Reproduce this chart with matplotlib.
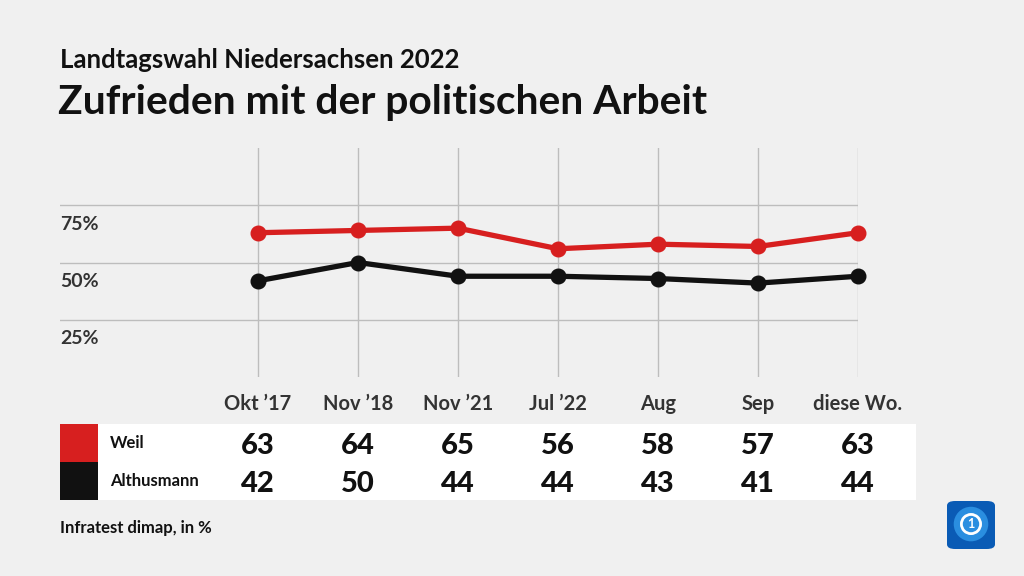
import matplotlib.pyplot as plt
import matplotlib.transforms as mtransforms
from matplotlib.patches import Rectangle, FancyBboxPatch, Circle

plt.rcParams['font.family'] = ['Lato', 'DejaVu Sans']

months = ['Okt ’17', 'Nov ’18', 'Nov ’21', 'Jul ’22', 'Aug', 'Sep', 'diese Wo.']
weil = [63, 64, 65, 56, 58, 57, 63]
althusmann = [42, 50, 44, 44, 43, 41, 44]
names = ['Weil', 'Althusmann']
colors = ['#d71f1f', '#111111']
yticks = [25, 50, 75]

W, H = 1024, 576
bg = '#f0f0f0'
fig = plt.figure(figsize=(W / 100, H / 100), dpi=100, facecolor=bg)

def fx(px):
    return px / W

def fy(py):
    return 1 - py / H

# plot area in pixel coords: left 60, right 858, top 148, bottom 377
ax = fig.add_axes([fx(60), fy(377), fx(858 - 60), (377 - 148) / H])
ax.set_zorder(3)
ax.set_facecolor(bg)
x = list(range(len(months)))
ax.set_xlim(-1.98, len(months) - 1)
ax.set_ylim(0, 100)
for s in ax.spines.values():
    s.set_visible(False)
ax.set_xticks([])
ax.set_yticks([])

for t in yticks:
    ax.axhline(t, color='#bdbdbd', lw=1, zorder=1)
    ax.text(-1.98, t - 4.5, f'{t}%', ha='left', va='top', fontsize=14,
            fontweight='bold', color='#333333')
for xi in x:
    ax.axvline(xi, color='#bdbdbd', lw=1, zorder=1)

for vals, c in zip([weil, althusmann], colors):
    ax.plot(x, vals, color=c, lw=3.8, marker='o', ms=10.5, zorder=3, clip_on=False)

blend = mtransforms.blended_transform_factory(ax.transData, fig.transFigure)

for xi, m in zip(x, months):
    ax.text(xi, fy(404), m, transform=blend, ha='center', va='center',
            fontsize=14.5, fontweight='bold', color='#333333')

# table
fig.patches.append(Rectangle((fx(98), fy(500)), fx(916 - 98), (500 - 424) / H,
                             transform=fig.transFigure, facecolor='white',
                             edgecolor='none', zorder=0))
rows = [weil, althusmann]
for i, (name, c, vals) in enumerate(zip(names, colors, rows)):
    top = 424 + i * 38
    fig.patches.append(Rectangle((fx(60), fy(top + 38)), fx(38), 38 / H,
                                 transform=fig.transFigure, facecolor=c,
                                 edgecolor='none', zorder=1))
    fig.text(fx(110), fy(top + 19), name, ha='left', va='center', fontsize=12,
             fontweight='bold', color='#111111')
    for xi, v in zip(x, vals):
        ax.text(xi, fy(top + 22), str(v), transform=blend, ha='center', va='center',
                fontsize=21, fontweight='black', color='#111111')

fig.text(fx(60), fy(68), 'Landtagswahl Niedersachsen 2022', ha='left', va='baseline',
         fontsize=18.5, fontweight='bold', color='#111111')
fig.text(fx(58), fy(114), 'Zufrieden mit der politischen Arbeit', ha='left',
         va='baseline', fontsize=29.3, fontweight='bold', color='#111111')
fig.text(fx(60), fy(533), 'Infratest dimap, in %', ha='left', va='baseline',
         fontsize=12, fontweight='bold', color='#111111')

# logo
fig.patches.append(FancyBboxPatch((fx(947), fy(549)), fx(48), 48 / H,
                                  boxstyle='round,pad=0,rounding_size=0.008',
                                  transform=fig.transFigure, facecolor='#0a5bb5',
                                  edgecolor='none'))
lax = fig.add_axes([fx(947), fy(549), fx(48), 48 / H])
lax.set_zorder(5)
lax.set_xlim(0, 1)
lax.set_ylim(0, 1)
lax.set_aspect('equal')
lax.axis('off')
lax.add_patch(Circle((0.5, 0.52), 0.36, facecolor='#2a8ee0', edgecolor='none'))
lax.add_patch(Circle((0.5, 0.52), 0.2, facecolor='none', edgecolor='white', lw=2))
lax.text(0.5, 0.52, '1', ha='center', va='center', fontsize=9, fontweight='bold',
         color='white')

fig.savefig('out.png', dpi=100, facecolor=bg)
